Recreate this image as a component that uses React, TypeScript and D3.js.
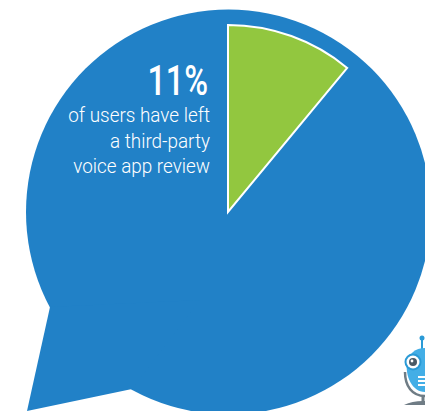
import React from "react";
import * as d3 from "d3";

const shareLabels = ["left a review", "no review"];
const shareValues = [11, 89];
const headline = "11%";
const captionLines = ["of users have left", "a third-party", "voice app review"];

const WIDTH = 425;
const HEIGHT = 411;
const BLUE = "#2181c7";
const GREEN = "#92c73f";
const FONT = "Roboto, sans-serif";

const cx = 228;
const cy = 212;
const bubbleRadius = 202.5;
const sliceRadius = 187;

export default function App() {
  const pie = d3.pie<number>().sort(null)(shareValues);
  const slice = d3.arc<d3.PieArcDatum<number>>().innerRadius(0).outerRadius(sliceRadius);
  const bubble = d3.arc()({
    innerRadius: 0,
    outerRadius: bubbleRadius,
    startAngle: 0,
    endAngle: 2 * Math.PI,
  }) as string;
  const tail = d3.line()([
    [50, 307],
    [27, 411],
    [132, 389],
    [200, 300],
  ]) as string;

  return (
    <svg
      width={WIDTH}
      height={HEIGHT}
      viewBox={`0 0 ${WIDTH} ${HEIGHT}`}
      style={{ position: "absolute", left: 0, top: 0, background: "#fff" }}
    >
      {/* speech bubble */}
      <path d={bubble} transform={`translate(${cx + 0.5},${cy})`} fill={BLUE} />
      <path d={tail} fill={BLUE} />

      {/* highlighted share */}
      <path
        d={slice(pie[0]) as string}
        transform={`translate(${cx},${cy})`}
        fill={GREEN}
        stroke="#fff"
        strokeWidth={2}
        aria-label={shareLabels[0]}
      />

      {/* condensed look comes from a horizontal squeeze of the label font */}
      <g fill="#fff" textAnchor="end" fontFamily={FONT}>
        <text transform="translate(208,95) scale(0.77,1)" fontSize={42} fontWeight={500}>
          {headline}
        </text>
        {captionLines.map((line, i) => (
          <text
            key={line}
            transform={`translate(210,${122 + i * 25.5}) scale(0.945,1)`}
            fontSize={20}
            fontWeight={300}
          >
            {line}
          </text>
        ))}
      </g>

      {/* robot mascot on its microphone stand */}
      <g>
        <path d="M422,340 L422,350" stroke="#2a9ad6" strokeWidth={2} fill="none" />
        <circle cx={422} cy={338} r={2.5} fill="#2a9ad6" />
        <path d="M405,372 C405,386 412,396 425,396" stroke="#6f7c85" strokeWidth={2.5} fill="none" />
        <path d="M423,396 L423,404" stroke="#6f7c85" strokeWidth={3} fill="none" />
        <path d="M404,405 Q412,401 423,401 L425,401 L425,405 Z" fill="#6f7c85" />
        <path
          d="M425,348 C415,348 409,354 407,362 C405,376 412,392 425,392 Z"
          fill="#43aee6"
        />
        <circle cx={413} cy={362} r={8.5} fill="#2a9ad6" />
        <circle cx={413} cy={362} r={6.5} fill="#fff" />
        <circle cx={413} cy={362} r={4} fill="#4a5a66" />
        <circle cx={412} cy={361} r={1.4} fill="#fff" />
        <rect x={418} y={376} width={7} height={2} fill="#fff" />
        <rect x={418} y={380} width={7} height={2} fill="#fff" />
        <rect x={418} y={384} width={7} height={2} fill="#fff" />
      </g>
    </svg>
  );
}
